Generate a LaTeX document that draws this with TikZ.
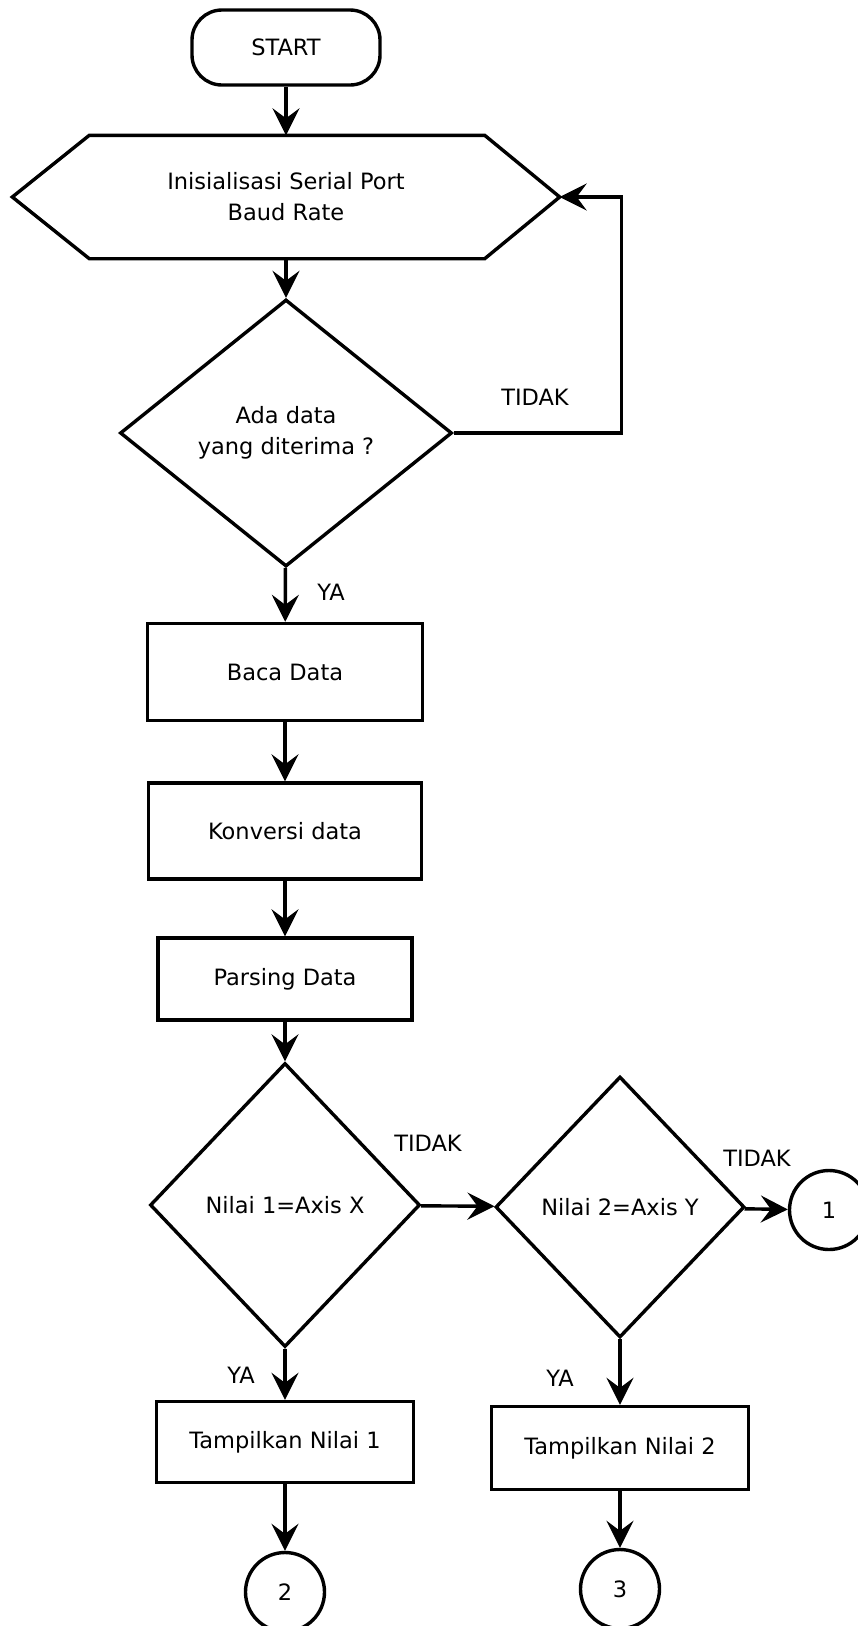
\documentclass[tikz,border=0pt]{standalone}
\usepackage{fontspec}
\setmainfont{DejaVu Sans}
\usetikzlibrary{shapes.geometric, arrows.meta, calc}

\begin{document}
\begin{tikzpicture}[x=1pt, y=-1pt, line width=3.4pt,
  >={Stealth[length=27pt, width=27pt, inset=10pt]},
  every node/.style={font=\fontsize{22.5}{31}\selectfont, align=center},
  termbox/.style={draw, rectangle, rounded corners=30pt, inner sep=0pt},
  procbox/.style={draw, rectangle, inner sep=0pt},
  askbox/.style={draw, diamond, inner sep=0pt},
  linkbox/.style={draw, circle, inner sep=0pt, minimum size=79pt}]

% ================================================================
% Page frame (858 x 1626)
% ================================================================
\useasboundingbox (0,0) rectangle (858,1626);

% ================================================================
% Main column: start, init, first test, read / convert / parse
% ================================================================
\node[termbox, minimum width=188pt, minimum height=75pt] (start) at (286,47.5) {START};

\node[inner sep=0pt, minimum width=544pt, minimum height=120pt] (init) at (286,197)
  {Inisialisasi Serial Port\\Baud Rate};
\draw (init.west) -- ($(init.north west)+(77,0)$) -- ($(init.north east)+(-75,0)$)
  -- (init.east) -- ($(init.south east)+(-75,0)$) -- ($(init.south west)+(77,0)$) -- cycle;

\node[askbox, minimum width=332pt, minimum height=267pt] (ask) at (286,433)
  {Ada data\\yang diterima ?};

\node[procbox, minimum width=275pt, minimum height=97pt] (baca) at (285,672) {Baca Data};
\node[procbox, minimum width=273pt, minimum height=96pt] (konv) at (285,831) {Konversi data};
\node[procbox, minimum width=254pt, minimum height=82pt] (pars) at (285,979) {Parsing Data};

% ================================================================
% Value tests
% ================================================================
\node[askbox, minimum width=270pt, minimum height=284pt] (axisx) at (285,1205) {Nilai 1=Axis X};
\node[askbox, minimum width=249pt, minimum height=261pt] (axisy) at (620,1207) {Nilai 2=Axis Y};

\node[procbox, minimum width=257pt, minimum height=81pt] (tamp1) at (285,1442) {Tampilkan Nilai 1};
\node[procbox, minimum width=257pt, minimum height=83pt] (tamp2) at (620,1448) {Tampilkan Nilai 2};

% Off-page links
\node[linkbox] (link1) at (829,1210) {1};
\node[linkbox] (link2) at (285,1592) {2};
\node[linkbox] (link3) at (620,1589) {3};

% ================================================================
% Branch labels
% ================================================================
\node (no1)  at (535,397)  {TIDAK};
\node (yes1) at (331,592)  {YA};
\node (no2)  at (428,1143) {TIDAK};
\node (no3)  at (757,1158) {TIDAK};
\node (yes2) at (241,1375) {YA};
\node (yes3) at (560,1378) {YA};

% ================================================================
% Flow lines
% ================================================================
\draw[->] (start) -- (init);
\draw[->] (init) -- (ask);
\draw[->] (ask.east) -- ++(168,0) |- (init.east);
\draw[->] (ask) -- (baca);
\draw[->] (baca) -- (konv);
\draw[->] (konv) -- (pars);
\draw[->] (pars) -- (axisx);
\draw[->] (axisx) -- (axisy);
\draw[->] (axisy) -- (link1);
\draw[->] (axisx) -- (tamp1);
\draw[->] (axisy) -- (tamp2);
\draw[->] (tamp1) -- (link2);
\draw[->] (tamp2) -- (link3);

\end{tikzpicture}
\end{document}
